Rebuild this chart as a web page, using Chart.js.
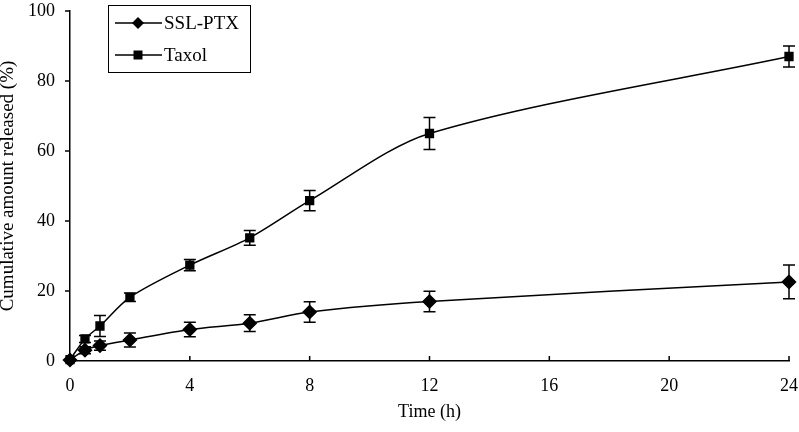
<!DOCTYPE html>
<html><head><meta charset="utf-8">
<script src="https://cdn.jsdelivr.net/npm/chart.js@4/dist/chart.umd.min.js"></script>
<style>html,body{margin:0;padding:0;background:#fff}#wrap{width:799px;height:432px}</style>
</head><body><div id="wrap"><canvas id="c" width="799" height="432"></canvas></div>
<script>
const times = [0, 0.5, 1, 2, 4, 6, 8, 12, 24];
const sslPtx = [0.3, 3.1, 4.4, 6.0, 9.0, 10.8, 14.0, 17.0, 22.6];
const sslPtxErr = [0, 1.0, 1.3, 2.0, 2.1, 2.4, 2.9, 2.9, 4.8];
const taxol = [0.4, 6.3, 10.0, 18.2, 27.4, 35.2, 45.8, 65.0, 87.0];
const taxolErr = [0, 1.0, 3.0, 1.2, 1.6, 2.1, 2.9, 4.6, 3.0];
const xTicks = [0, 4, 8, 12, 16, 20, 24];
const yTicks = [0, 20, 40, 60, 80, 100];
const seriesNames = ['SSL-PTX', 'Taxol'];

const FONT = '"Liberation Serif", "Times New Roman", serif';

const errBars = {
  id: 'errBars',
  afterDatasetsDraw(chart) {
    const ctx = chart.ctx, xs = chart.scales.x, ys = chart.scales.y;
    const errs = [sslPtxErr, taxolErr];
    ctx.save();
    ctx.strokeStyle = '#000'; ctx.lineWidth = 1.5;
    chart.data.datasets.forEach((ds, i) => {
      ds.data.forEach((p, j) => {
        const e = errs[i][j]; if (!e) return;
        const x = xs.getPixelForValue(p.x);
        const y1 = ys.getPixelForValue(p.y + e), y2 = ys.getPixelForValue(p.y - e);
        ctx.beginPath();
        ctx.moveTo(x, y1); ctx.lineTo(x, y2);
        ctx.moveTo(x - 6, y1); ctx.lineTo(x + 6, y1);
        ctx.moveTo(x - 6, y2); ctx.lineTo(x + 6, y2);
        ctx.stroke();
      });
    });
    ctx.restore();
  }
};

const axesDecor = {
  id: 'axesDecor',
  afterDraw(chart) {
    const ctx = chart.ctx, xs = chart.scales.x, ys = chart.scales.y, a = chart.chartArea;
    ctx.save();
    ctx.strokeStyle = '#000'; ctx.lineWidth = 1.5;
    ctx.beginPath();
    xTicks.forEach(v => { const x = xs.getPixelForValue(v); ctx.moveTo(x, a.bottom); ctx.lineTo(x, a.bottom - 5); });
    yTicks.forEach(v => { const y = ys.getPixelForValue(v); ctx.moveTo(a.left, y); ctx.lineTo(a.left - 5, y); });
    ctx.stroke();
    // legend
    const bx = 108, by = 5, bw = 142, bh = 67;
    ctx.lineWidth = 1;
    ctx.strokeRect(bx + 0.5, by + 0.5, bw, bh);
    const rows = [23, 55];
    ctx.font = '19px ' + FONT;
    ctx.textBaseline = 'middle';
    chart.data.datasets.forEach((ds, i) => {
      const y = rows[i];
      ctx.lineWidth = 1.5;
      ctx.beginPath(); ctx.moveTo(bx + 7, y); ctx.lineTo(bx + 54, y); ctx.stroke();
      ctx.fillStyle = '#000';
      const cx = bx + 30;
      ctx.beginPath();
      if (i === 0) { ctx.moveTo(cx, y - 6); ctx.lineTo(cx + 6, y); ctx.lineTo(cx, y + 6); ctx.lineTo(cx - 6, y); ctx.closePath(); }
      else { ctx.rect(cx - 4.5, y - 4.5, 9, 9); }
      ctx.fill();
      ctx.fillText(ds.label, bx + 56, y + 1);
    });
    ctx.restore();
  }
};

const mk = (vals) => times.map((t, i) => ({ x: t, y: vals[i] }));

new Chart(document.getElementById('c'), {
  type: 'line',
  data: {
    datasets: [
      { label: seriesNames[0], data: mk(sslPtx), borderColor: '#000', backgroundColor: '#000', borderWidth: 1.5,
        pointStyle: 'rectRot', pointRadius: 6.5, pointHoverRadius: 6.5, tension: 0.3, clip: false },
      { label: seriesNames[1], data: mk(taxol), borderColor: '#000', backgroundColor: '#000', borderWidth: 1.5,
        pointStyle: 'rect', pointRadius: 5.5, pointHoverRadius: 5.5, tension: 0.3, clip: false }
    ]
  },
  options: {
    responsive: false, animation: false,
    layout: { padding: { top: 11, right: 10, left: 0, bottom: 0 } },
    plugins: { legend: { display: false }, tooltip: { enabled: false } },
    scales: {
      x: {
        type: 'linear', min: 0, max: 24,
        afterBuildTicks: s => { s.ticks = xTicks.map(v => ({ value: v })); },
        afterFit: s => { s.height = 71; s.paddingLeft = 0; s.paddingRight = 0; },
        grid: { display: false },
        border: { display: true, color: '#000', width: 1.5 },
        ticks: { color: '#000', font: { family: FONT, size: 18 }, padding: 6, maxRotation: 0 },
        title: { display: true, text: 'Time (h)', color: '#000', font: { family: FONT, size: 18 }, padding: { top: 0, bottom: 9 } }
      },
      y: {
        min: 0, max: 100,
        afterBuildTicks: s => { s.ticks = yTicks.map(v => ({ value: v })); },
        afterFit: s => { s.width = 70; s.paddingTop = 0; s.paddingBottom = 0; },
        grid: { display: false },
        border: { display: true, color: '#000', width: 1.5 },
        ticks: { color: '#000', font: { family: FONT, size: 18 }, padding: 7 },
        title: { display: true, text: 'Cumulative amount released (%)', color: '#000', font: { family: FONT, size: 19, lineHeight: 1 }, padding: { top: -1, bottom: 0 } }
      }
    }
  },
  plugins: [errBars, axesDecor]
});
</script></body></html>
